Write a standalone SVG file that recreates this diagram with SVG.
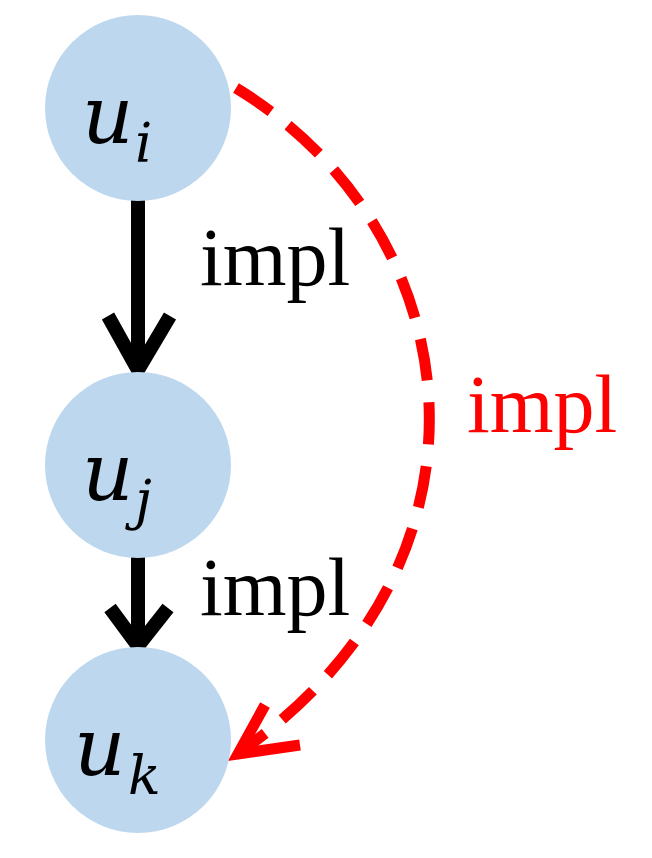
<svg xmlns="http://www.w3.org/2000/svg" width="652" height="858" viewBox="0 0 652 858">
<style>
.n{fill:#bdd7ee}
.m{font-family:"DejaVu Serif","Liberation Serif",serif;font-style:italic;fill:#000}
.l{font-family:"Liberation Serif",serif;font-size:82px}
</style>
<rect width="652" height="858" fill="#fff"/>
<g id="connectors" fill="none" stroke-linecap="butt">
<path d="M138,198 V366 M108,316 L138,370 L170,316" stroke="#000" stroke-width="14"/>
<path d="M138,556 V644 M110,608 L138,646 L168,608" stroke="#000" stroke-width="14"/>
<path d="M236,88 C470,230 515,560 240,752" stroke="#f00" stroke-width="11" stroke-dasharray="42,22"/>
<path d="M265,705 L238,754 L300,745" stroke="#f00" stroke-width="11"/>
</g>
<g id="ui"><circle class="n" cx="138" cy="108" r="93"/><text class="m" x="82" y="143" font-size="80">u</text><text class="m" x="135" y="162" font-size="54">i</text></g>
<g id="uj"><circle class="n" cx="138" cy="465" r="93"/><text class="m" x="82" y="500" font-size="80">u</text><text class="m" x="135" y="519" font-size="54">j</text></g>
<g id="uk"><circle class="n" cx="138" cy="740" r="93"/><text class="m" x="74" y="775" font-size="80">u</text><text class="m" x="128" y="794" font-size="54">k</text></g>
<g id="labels">
<text class="l" x="200" y="285">impl</text>
<text class="l" x="200" y="615">impl</text>
<text class="l" x="467" y="432" fill="#f00">impl</text>
</g>
</svg>
